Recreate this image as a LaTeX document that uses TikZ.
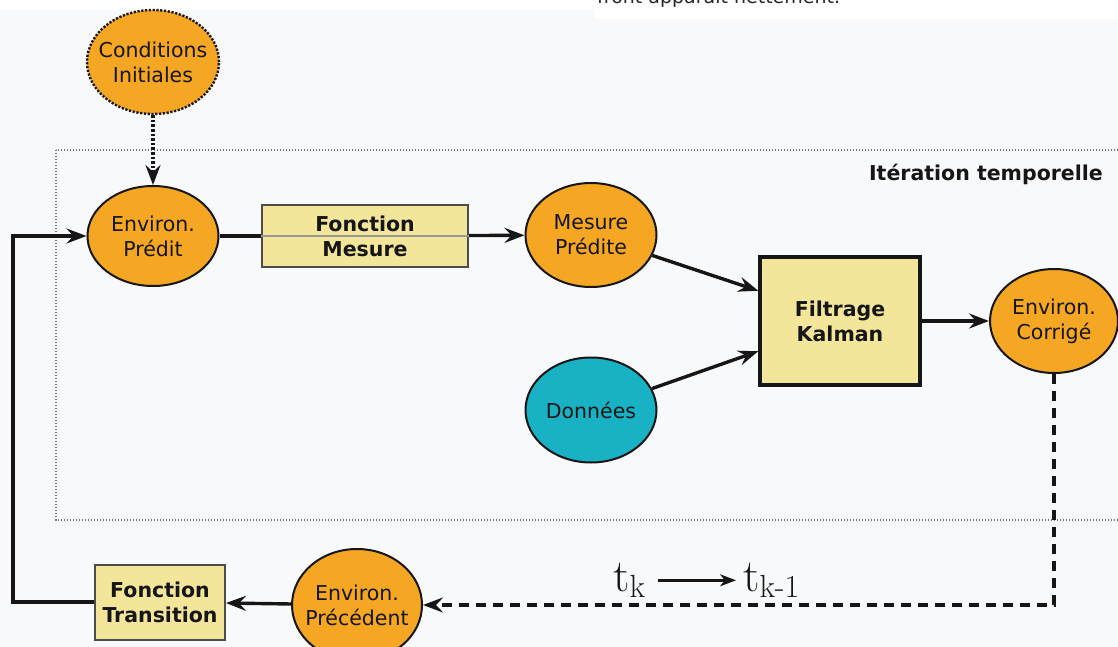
\documentclass[tikz,border=0pt]{standalone}
\usepackage[no-math]{fontspec}
\usepackage{graphicx}
\setmainfont{DejaVu Sans}
\usetikzlibrary{shapes.geometric,arrows.meta,calc}
\definecolor{orng}{RGB}{245,166,35}
\definecolor{khaki}{RGB}{243,229,154}
\definecolor{cyanD}{RGB}{24,178,196}
\definecolor{bgc}{RGB}{248,249,250}
\definecolor{ink}{RGB}{22,22,22}
\newcommand{\bigmath}[1]{\scalebox{1.85}{\fontsize{24}{26}\selectfont$#1$}}
\begin{document}
\begin{tikzpicture}[x=1pt,y=-1pt,
  ell/.style={ellipse, draw=ink, line width=2pt, fill=orng, inner ysep=0pt, inner xsep=-14pt, align=center,
    text=ink, font=\fontsize{20.5}{25}\selectfont},
  bx/.style={rectangle, draw=black!70, line width=2pt, fill=khaki, inner sep=0pt, align=center,
    text=ink, font=\bfseries\fontsize{20.5}{25}\selectfont},
  tip/.style={-{Stealth[length=20pt,width=15pt,inset=7pt]}},
  conn/.style={tip, line width=3.4pt, draw=ink},
  dashconn/.style={conn, dash pattern=on 10pt off 7pt, line width=3.7pt},
  dotconn/.style={conn, dash pattern=on 2.6pt off 2pt, line width=3.3pt},
  frame/.style={draw=black!55, line width=1.5pt, dash pattern=on 1.4pt off 1.6pt}
]
\useasboundingbox (0,0) rectangle (1118,647);
\fill[bgc] (0,0) rectangle (1118,647);
\fill[white] (0,0) rectangle (1118,10);
\fill[white] (594,0) rectangle (1118,19);
\node[anchor=base west, inner sep=0pt, text=black!85, font=\fontsize{19}{22}\selectfont] (top) at (597,4) {front apparaît nettement.};

% iteration frame
\draw[frame] (56,150) rectangle (1135,520);
\node[anchor=base east, inner sep=0pt, text=ink, font=\bfseries\fontsize{20.5}{25}\selectfont] (iter) at (1103,181) {Itération temporelle};

% nodes
\node[ell, dash pattern=on 2.2pt off 1.6pt, line width=2.4pt, minimum width=132pt, minimum height=104pt] (CI) at (153,62) {Conditions\\Initiales};
\node[ell, minimum width=131pt, minimum height=100pt] (EP) at (153,236) {Environ.\\Prédit};
\node[bx, minimum width=206pt, minimum height=62pt] (FM) at (365,236) {Fonction\\Mesure};
\node[ell, minimum width=131pt, minimum height=104pt] (MP) at (591,235) {Mesure\\Prédite};
\node[ell, fill=cyanD, minimum width=131pt, minimum height=105pt] (D) at (591,410) {Données};
\node[bx, draw=ink, line width=3.4pt, minimum width=160pt, minimum height=128pt] (K) at (840,321) {Filtrage\\Kalman};
\node[ell, minimum width=128pt, minimum height=104pt] (EC) at (1054,321) {Environ.\\Corrigé};
\node[ell, minimum width=130pt, minimum height=112pt] (EPr) at (357,605) {Environ.\\Précédent};
\node[bx, minimum width=130pt, minimum height=75pt] (FT) at (160,602) {Fonction\\Transition};

\node[anchor=base west, inner sep=1pt, text=ink] (tk) at (612,591) {\bigmath{\mathrm{t}_{\mathrm{k}}}};
\node[anchor=base west, inner sep=1pt, text=ink] (tk1) at (742,591) {\bigmath{\mathrm{t}_{\mathrm{k}\mathchar"002D\mathrm{1}}}};

% connectors
\draw[dotconn] (CI) -- (EP);
\draw[line width=3.4pt, draw=ink] (EP) -- (FM);
\draw[black!40, line width=1.2pt] (FM.west) -- (FM.east);
\draw[conn] (FM) -- (MP);
\coordinate (k1) at ($(K.north west)!0.27!(K.south west)$);
\coordinate (k2) at ($(K.north west)!0.73!(K.south west)$);
\draw[conn] (MP) -- (k1);
\draw[conn] (D) -- (k2);
\draw[conn] (K) -- (EC);
\draw[dashconn] (EC) |- (EPr);
\draw[conn] (EPr) -- (FT);
\coordinate (L) at (13,0);
\draw[conn, line join=miter] (FT.west) -| (L |- EP.west) -- (EP.west);
\draw[conn, line width=2.6pt, shorten <=11pt, shorten >=6pt, -{Stealth[length=16pt,width=12pt,inset=5pt]}] (tk) -- (tk1);
\end{tikzpicture}
\end{document}
